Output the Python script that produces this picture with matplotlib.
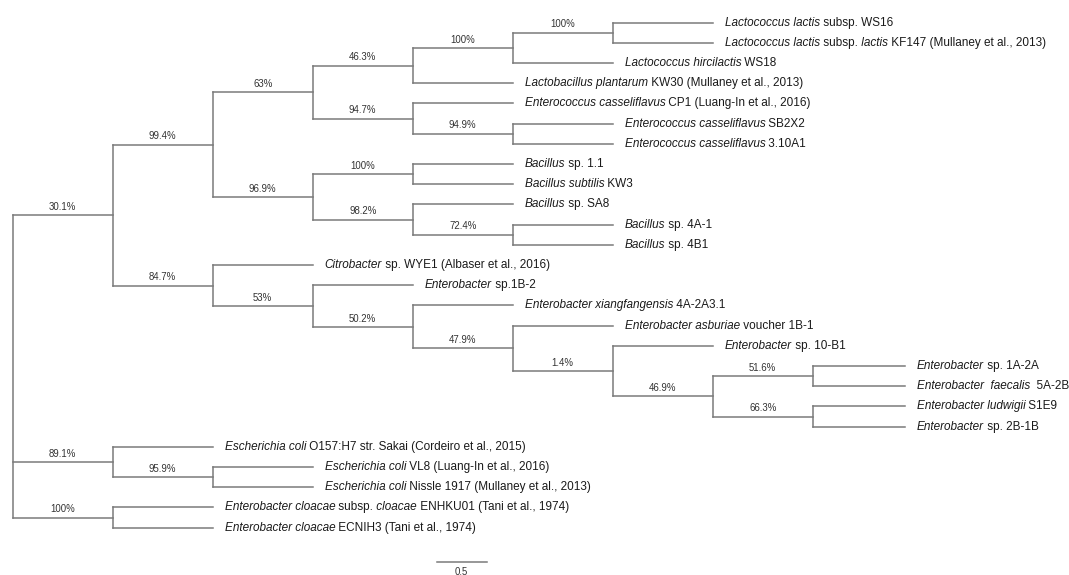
import matplotlib
matplotlib.use("Agg")
import matplotlib.pyplot as plt

plt.rcParams['font.family'] = ['Liberation Sans', 'DejaVu Sans']

# leaf labels: (text, italic) pieces
leaf_labels = [
    [("Lactococcus lactis", True), (" subsp. WS16", False)],
    [("Lactococcus lactis", True), (" subsp.", False), (" lactis", True), (" KF147 (Mullaney et al., 2013)", False)],
    [("Lactococcus hircilactis", True), (" WS18", False)],
    [("Lactobacillus plantarum", True), (" KW30 (Mullaney et al., 2013)", False)],
    [("Enterococcus casseliflavus", True), (" CP1 (Luang-In et al., 2016)", False)],
    [("Enterococcus casseliflavus", True), (" SB2X2", False)],
    [("Enterococcus casseliflavus", True), (" 3.10A1", False)],
    [("Bacillus", True), (" sp. 1.1", False)],
    [("Bacillus subtilis", True), (" KW3", False)],
    [("Bacillus", True), (" sp. SA8", False)],
    [("Bacillus", True), (" sp. 4A-1", False)],
    [("Bacillus", True), (" sp. 4B1", False)],
    [("Citrobacter", True), (" sp. WYE1 (Albaser et al., 2016)", False)],
    [("Enterobacter", True), (" sp.1B-2", False)],
    [("Enterobacter xiangfangensis", True), (" 4A-2A3.1", False)],
    [("Enterobacter asburiae", True), (" voucher 1B-1", False)],
    [("Enterobacter", True), (" sp. 10-B1", False)],
    [("Enterobacter", True), (" sp. 1A-2A", False)],
    [("Enterobacter  faecalis", True), ("  5A-2B", False)],
    [("Enterobacter ludwigii", True), (" S1E9", False)],
    [("Enterobacter", True), (" sp. 2B-1B", False)],
    [("Escherichia coli", True), (" O157:H7 str. Sakai (Cordeiro et al., 2015)", False)],
    [("Escherichia coli", True), (" VL8 (Luang-In et al., 2016)", False)],
    [("Escherichia coli", True), (" Nissle 1917 (Mullaney et al., 2013)", False)],
    [("Enterobacter cloacae", True), (" subsp.", False), (" cloacae", True), (" ENHKU01 (Tani et al., 1974)", False)],
    [("Enterobacter cloacae", True), (" ECNIH3 (Tani et al., 1974)", False)],
]

# terminal branch lengths
leaf_lengths = [1, 1, 1, 1, 1, 1, 1, 1, 1, 1, 1, 1, 1,
                1, 1, 1, 1, 0.92, 0.92, 0.92, 0.92, 1, 1, 1, 1, 1]

# internal nodes: (support, branch length, children); ints are leaf indices
tree = ("", 0, [
    ("30.1%", 1, [
        ("99.4%", 1, [
            ("63%", 1, [
                ("46.3%", 1, [
                    ("100%", 1, [
                        ("100%", 1, [0, 1]),
                        2]),
                    3]),
                ("94.7%", 1, [
                    4,
                    ("94.9%", 1, [5, 6])])]),
            ("96.9%", 1, [
                ("100%", 1, [7, 8]),
                ("98.2%", 1, [
                    9,
                    ("72.4%", 1, [10, 11])])])]),
        ("84.7%", 1, [
            12,
            ("53%", 1, [
                13,
                ("50.2%", 1, [
                    14,
                    ("47.9%", 1, [
                        15,
                        ("1.4%", 1, [
                            16,
                            ("46.9%", 1, [
                                ("51.6%", 1, [17, 18]),
                                ("66.3%", 1, [19, 20])])])])])])])]),
    ("89.1%", 1, [
        21,
        ("95.9%", 1, [22, 23])]),
    ("100%", 1, [24, 25])])

scale_len = 0.5

W, H = 1069, 575
fig = plt.figure(figsize=(W / 100, H / 100), dpi=100)
ax = fig.add_axes([0, 0, 1, 1])
ax.axis('off')
# 100 px per unit of branch length, 20.2 px per leaf row
ax.set_xlim(-0.127, (W - 12.7) / 100)
ax.set_ylim((H - 22.7) / 20.2, -22.7 / 20.2)

line_col = '#7a7a7a'
lw = 1.1
sup_size = 6.9
leaf_size = 8.5
leaf_tips = {}


def draw(node, x0):
    # returns y of this node
    if isinstance(node, int):
        x1 = x0 + leaf_lengths[node]
        ax.plot([x0, x1], [node, node], color=line_col, lw=lw, solid_capstyle='projecting')
        leaf_tips[node] = x1
        return node
    support, length, children = node
    x1 = x0 + length
    ys = [draw(c, x1) for c in children]
    y = (min(ys) + max(ys)) / 2
    ax.plot([x1, x1], [min(ys), max(ys)], color=line_col, lw=lw, solid_capstyle='projecting')
    if length > 0:
        ax.plot([x0, x1], [y, y], color=line_col, lw=lw, solid_capstyle='projecting')
    if support:
        ax.annotate(support, ((x0 + x1) / 2, y), xytext=(0, 6), textcoords='offset points',
                    ha='center', va='center', fontsize=sup_size, color='#333333')
    return y


draw(tree, 0)

# leaf labels, pieces chained left to right
for i, parts in enumerate(leaf_labels):
    prev = None
    for txt, ital in parts:
        style = 'italic' if ital else 'normal'
        if prev is None:
            prev = ax.annotate(txt, (leaf_tips[i], i), xytext=(8.5, 0), textcoords='offset points',
                               ha='left', va='center', fontsize=leaf_size, style=style, color='#1a1a1a')
        else:
            prev = ax.annotate(txt, (1, 0), xycoords=prev, ha='left', va='bottom',
                               fontsize=leaf_size, style=style, color='#1a1a1a')

# scale bar
sb_x = 4.24
sb_y = (562 - 22.7) / 20.2
ax.plot([sb_x, sb_x + scale_len], [sb_y, sb_y], color=line_col, lw=lw)
ax.annotate(str(scale_len), (sb_x + scale_len / 2, sb_y), xytext=(0, -7), textcoords='offset points',
            ha='center', va='center', fontsize=sup_size, color='#333333')

fig.savefig('out.png', dpi=100)
